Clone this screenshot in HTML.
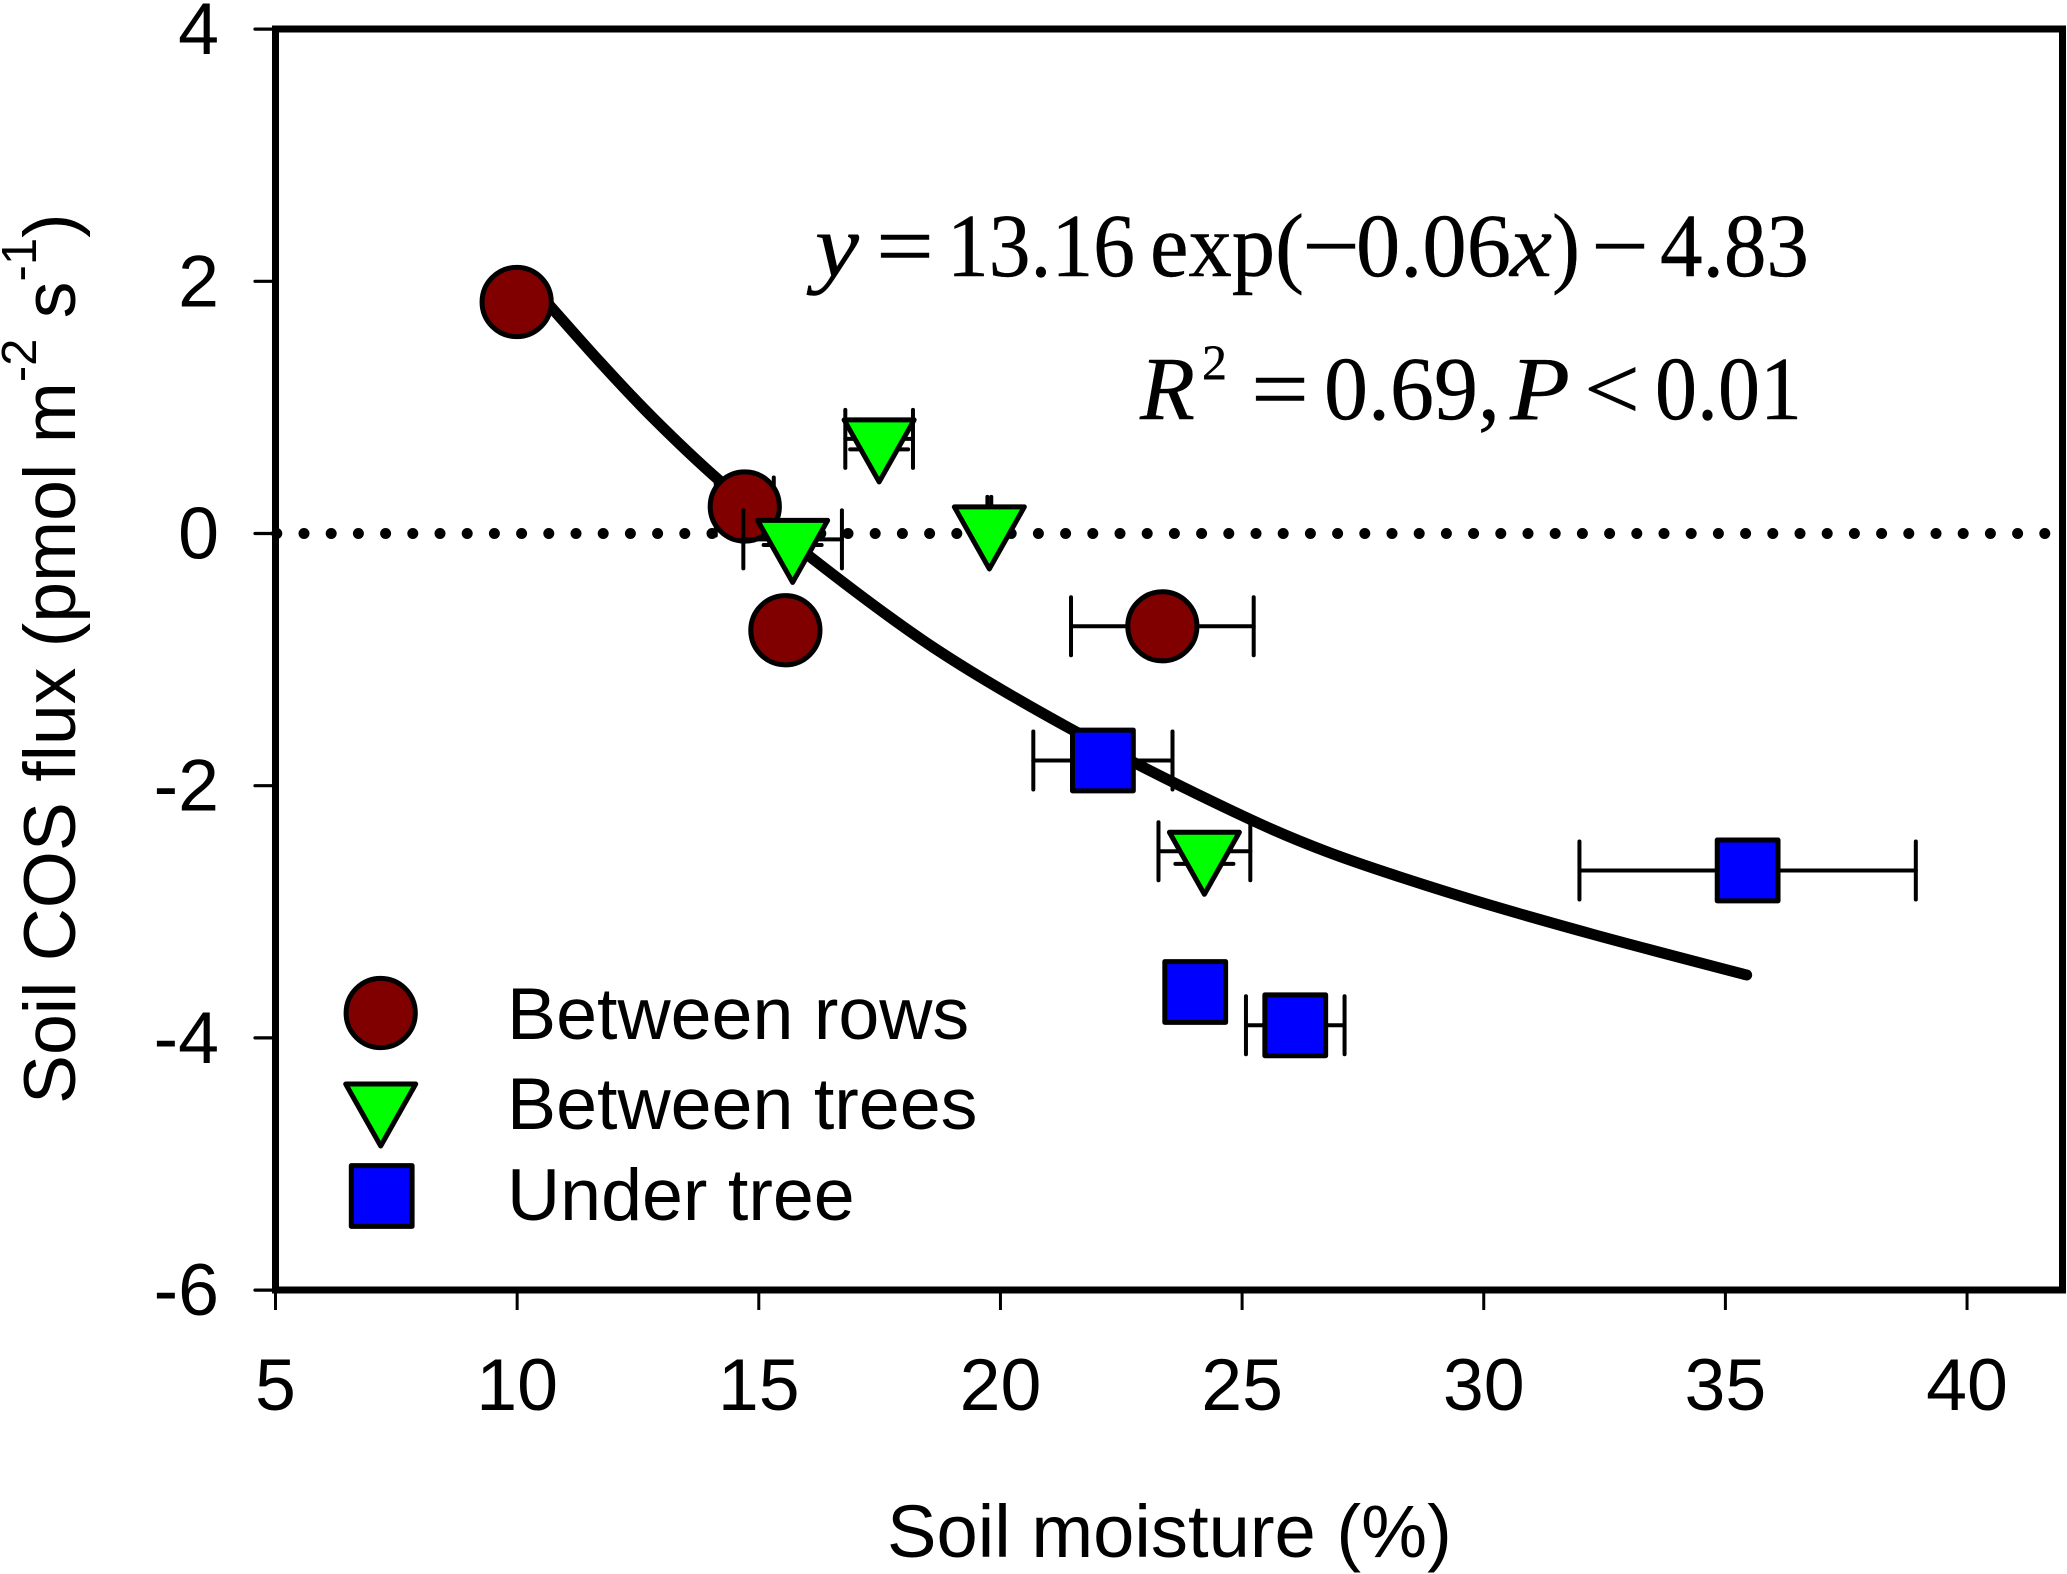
<!DOCTYPE html>
<html lang="en">
<head>
<meta charset="utf-8">
<title>Soil COS flux vs soil moisture</title>
<style>
html,body{margin:0;padding:0;background:#fff;}
svg{display:block;}
text{font-family:"Liberation Sans",Arial,sans-serif;fill:#000;}
.tm{font-family:"Liberation Serif","Times New Roman",serif;stroke:#000;stroke-width:0.4;}
</style>
</head>
<body>
<svg id="chart" xmlns="http://www.w3.org/2000/svg" width="2067" height="1574" viewBox="0 0 2067 1574">
  <rect x="0" y="0" width="2067" height="1574" fill="#fff"/>
  <g id="plot"></g>
  <rect x="275.5" y="29" width="1787" height="1261" fill="none" stroke="#000" stroke-width="7"/>
  <g id="axes"></g>

  <text x="887" y="1557" font-size="74.2">Soil moisture (%)</text>
  <text transform="translate(75,1104) rotate(-90)" font-size="73.4">Soil COS flux (pmol m<tspan font-size="49" dy="-39">-2</tspan><tspan dy="39"> s</tspan><tspan font-size="49" dy="-39">-1</tspan><tspan dy="39">)</tspan></text>

  <g font-size="90">
    <text class="tm" font-style="italic" x="815" y="276" textLength="44" lengthAdjust="spacingAndGlyphs">y</text>
    <text class="tm" x="876" y="276" textLength="58" lengthAdjust="spacingAndGlyphs">=</text>
    <text class="tm" x="947" y="276" textLength="188" lengthAdjust="spacingAndGlyphs">13.16</text>
    <text class="tm" x="1150" y="276" textLength="154" lengthAdjust="spacingAndGlyphs">exp(</text>
    <text class="tm" x="1302" y="276" textLength="58" lengthAdjust="spacingAndGlyphs">−</text>
    <text class="tm" x="1356" y="276" textLength="155" lengthAdjust="spacingAndGlyphs">0.06</text>
    <text class="tm" font-style="italic" x="1510" y="276" textLength="42" lengthAdjust="spacingAndGlyphs">x</text>
    <text class="tm" x="1552" y="276" textLength="28" lengthAdjust="spacingAndGlyphs">)</text>
    <text class="tm" x="1591" y="276" textLength="58" lengthAdjust="spacingAndGlyphs">−</text>
    <text class="tm" x="1660" y="276" textLength="149" lengthAdjust="spacingAndGlyphs">4.83</text>
  </g>
  <g font-size="90">
    <text class="tm" font-style="italic" x="1140" y="419" textLength="55" lengthAdjust="spacingAndGlyphs">R</text>
    <text class="tm" x="1202" y="379" font-size="50" textLength="25" lengthAdjust="spacingAndGlyphs">2</text>
    <text class="tm" x="1251" y="419" textLength="58" lengthAdjust="spacingAndGlyphs">=</text>
    <text class="tm" x="1324" y="419" textLength="176" lengthAdjust="spacingAndGlyphs">0.69,</text>
    <text class="tm" font-style="italic" x="1510" y="419" textLength="60" lengthAdjust="spacingAndGlyphs">P</text>
    <text class="tm" x="1584" y="419" textLength="56" lengthAdjust="spacingAndGlyphs">&lt;</text>
    <text class="tm" x="1655" y="419" textLength="147" lengthAdjust="spacingAndGlyphs">0.01</text>
  </g>

  <g id="legend"></g>
</svg>
<script>
// Axis ticks
const xTicks = [5, 10, 15, 20, 25, 30, 35, 40];
const yTicks = [4, 2, 0, -2, -4, -6];

// Between rows
const rowsX = [9.99, 14.71, 15.55, 23.35];
const rowsY = [1.836, 0.214, -0.767, -0.736];
const rowsXErr = [0, 0.60, 0, 1.89];
const rowsYErr = [0, 0, 0, 0];

// Between trees
const treesX = [17.49, 19.77, 15.70, 24.22];
const treesY = [0.75, 0.06, -0.047, -2.52];
const treesXErr = [0.70, 0.04, 1.02, 0.95];
const treesYErr = [0.083, 0, 0.044, 0.10];

// Under tree
const underX = [22.12, 24.03, 26.10, 35.46];
const underY = [-1.80, -3.636, -3.90, -2.672];
const underXErr = [1.44, 0, 1.02, 3.48];
const underYErr = [0, 0, 0, 0];

// Fitted curve
const curveX = [10.3, 11.71, 12.82, 14.13, 16.06, 18.61, 21.37, 24.47, 26.75, 29.51, 32.27, 35.44];
const curveY = [1.97, 1.362, 0.913, 0.438, -0.184, -0.903, -1.532, -2.141, -2.523, -2.875, -3.18, -3.501];

// Legend
const legendLabels = ['Between rows', 'Between trees', 'Under tree'];

const NS = 'http://www.w3.org/2000/svg';
const sx = v => 275.5 + 48.33 * (v - 5);
const sy = v => 533.5 - 126.1 * v;
const plot = document.getElementById('plot');
const axes = document.getElementById('axes');
const legend = document.getElementById('legend');

function mk(parent, tag, attrs) {
  const el = document.createElementNS(NS, tag);
  for (const k in attrs) el.setAttribute(k, attrs[k]);
  parent.appendChild(el);
  return el;
}

// Axis ticks and labels
xTicks.forEach(t => {
  const tick = mk(axes, 'line', {x1: sx(t), x2: sx(t), y1: 1290, y2: 1310, stroke: '#000', 'stroke-width': 3});
  
  
  const label = mk(axes, 'text', {x: sx(t), y: 1410, 'font-size': 73.5, 'text-anchor': 'middle'});
  label.textContent = t;
  
  
});
yTicks.forEach(t => {
  const tick = mk(axes, 'line', {x1: 255, x2: 275.5, y1: sy(t), y2: sy(t), stroke: '#000', 'stroke-width': 3.2, 'stroke-linecap': 'round'});
  
  
  const label = mk(axes, 'text', {x: 219, y: sy(t) + 25, 'font-size': 73.5, 'text-anchor': 'end'});
  label.textContent = t;
  
  
});

// Zero reference line
const zero = mk(plot, 'line', {x1: 276.8, x2: 2062, y1: sy(0), y2: sy(0), stroke: '#000', 'stroke-width': 11, 'stroke-linecap': 'round', 'stroke-dasharray': '0 27.2'});



// Fitted curve (Catmull-Rom through the read values)
function curvePath(xs, ys) {
  const p = xs.map((x, i) => [sx(x), sy(ys[i])]);
  let d = 'M' + p[0][0] + ' ' + p[0][1];
  for (let i = 0; i < p.length - 1; i++) {
    const a = p[Math.max(i - 1, 0)], b = p[i], c = p[i + 1], e = p[Math.min(i + 2, p.length - 1)];
    d += 'C' + (b[0] + (c[0] - a[0]) / 6) + ' ' + (b[1] + (c[1] - a[1]) / 6) + ' ' +
         (c[0] - (e[0] - b[0]) / 6) + ' ' + (c[1] - (e[1] - b[1]) / 6) + ' ' + c[0] + ' ' + c[1];
  }
  return d;
}
const curve = mk(plot, 'path', {d: curvePath(curveX, curveY), fill: 'none', stroke: '#000', 'stroke-width': 11, 'stroke-linecap': 'round', 'stroke-linejoin': 'round'});



// Markers
const CAP = 29;
function errorBars(parent, x, y, xe, ye) {
  const seg = (x1, y1, x2, y2) => mk(parent, 'line', {x1, y1, x2, y2, stroke: '#000', 'stroke-width': 4, 'stroke-linecap': 'round'});
  const px = sx(x), py = sy(y);
  if (xe > 0) {
    const l = sx(x - xe), r = sx(x + xe);
    seg(l, py, r, py);
    seg(l, py - CAP, l, py + CAP);
    seg(r, py - CAP, r, py + CAP);
  }
  if (ye > 0) {
    const t = sy(y + ye), b = sy(y - ye);
    seg(px, t, px, b);
    seg(px - CAP, t, px + CAP, t);
    seg(px - CAP, b, px + CAP, b);
  }
}
function circle(parent, px, py) {
  return mk(parent, 'circle', {cx: px, cy: py, r: 34.6, fill: '#800000', stroke: '#000', 'stroke-width': 5});
}
function triangle(parent, px, py) {
  const pts = [[px - 35, py - 19], [px + 35, py - 19], [px, py + 43]].map(q => q.join(',')).join(' ');
  return mk(parent, 'polygon', {points: pts, fill: '#00ff00', stroke: '#000', 'stroke-width': 5, 'stroke-linejoin': 'round'});
}
function square(parent, px, py) {
  return mk(parent, 'rect', {x: px - 30.4, y: py - 30.4, width: 60.8, height: 60.8, fill: '#0000ff', stroke: '#000', 'stroke-width': 5, 'stroke-linejoin': 'round'});
}

rowsX.forEach((x, i) => {
  const g = mk(plot, 'g', {});
  
  
  errorBars(g, x, rowsY[i], rowsXErr[i], rowsYErr[i]);
  circle(g, sx(x), sy(rowsY[i]));
});
treesX.forEach((x, i) => {
  const g = mk(plot, 'g', {});
  
  
  errorBars(g, x, treesY[i], treesXErr[i], treesYErr[i]);
  triangle(g, sx(x), sy(treesY[i]));
});
underX.forEach((x, i) => {
  const g = mk(plot, 'g', {});
  
  
  errorBars(g, x, underY[i], underXErr[i], underYErr[i]);
  square(g, sx(x), sy(underY[i]));
});

// Legend
const legendMarkers = [
  () => circle(legend, 380.7, 1013),
  () => triangle(legend, 380.7, 1103),
  () => square(legend, 381.7, 1196)
];
const legendBaselines = [1039, 1129, 1220];
legendLabels.forEach((name, i) => {
  const m = legendMarkers[i]();
  
  
  const t = mk(legend, 'text', {x: 507, y: legendBaselines[i], 'font-size': 73.6});
  t.textContent = name;
  
  
});
</script>
</body>
</html>
